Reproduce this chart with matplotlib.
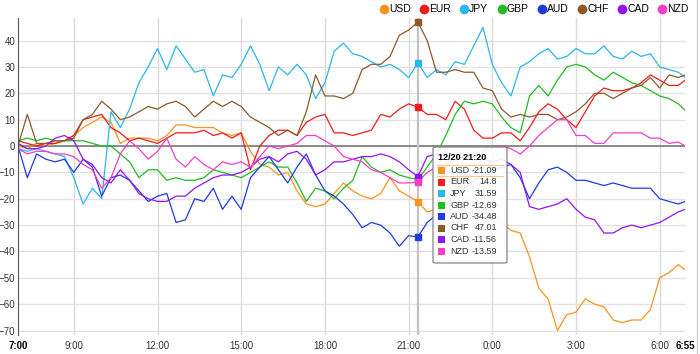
import numpy as np
import matplotlib.pyplot as plt
from matplotlib.lines import Line2D
from matplotlib.patches import FancyBboxPatch, Rectangle

plt.rcParams['font.family'] = ['Liberation Sans', 'DejaVu Sans']

# minutes after 7:00, a reading every 20 min, last one at 6:55
minutes = list(range(0, 1440, 20)) + [1435]
hours = np.array(minutes) / 60

usd = [0, -1, 1, 0, 1, 2, 4, 7, 9, 11, 9, 1, 3, 3, 3, 2, 4, 8, 8, 7, 7, 7, 5, 4, 5, -2, -7, -8, -11, -10, -17, -22, -23, -22, -18, -14,
       -17, -19, -20, -18, -12, -17, -19, -21.09, -25, -24, -23, -25, -24, -26, -27, -26, -29, -32, -33, -42, -54, -58, -70, -64,
       -63, -58, -60, -61, -66, -67, -66, -66, -62, -50, -48, -45, -47]
eur = [2, 1, 0, 1, 1, 2, 4, 10, 11, 12, 7, 5, 2, 3, 2, 1, 3, 5, 5, 5, 6, 4, 5, 3, 5, -9, 0, 4, 6, 6, 4, 9, 11, 12, 5, 5,
       4, 5, 6, 12, 11, 14, 16, 14.8, 12, 12, 10, 17, 14, 6, 3, 3, 5, 5, 2, 7, 13, 16, 14, 10, 7, 13, 19, 22, 21, 21, 22, 24,
       27, 25, 23, 23, 25]
jpy = [-1, -2, -1, -2, -3, -4, -12, -22, -16, -20, 13, 7, 14, 24, 30, 37, 29, 38, 33, 28, 29, 19, 27, 26, 31, 38, 31, 21, 30, 27,
       31, 27, 18, 24, 36, 39,
       35, 34, 32, 30, 31, 29, 26, 31.59, 26, 29, 27, 32, 31, 38, 45, 31, 24, 19, 30, 32, 35, 37, 33, 34, 37, 35, 35, 38, 34, 33,
       36, 34, 35, 30, 29, 28, 26]
gbp = [2, 3, 2, 3, 2, 2, 2, 2, 1, 0, 0, -3, -6, -12, -9, -9, -13, -12, -13, -13, -12, -9, -10, -11, -12, -10, -8, -6, -8, -8,
       -14, -21, -16, -17, -20, -16,
       -13, -4, -8, -10, -9, -11, -12, -12.69, -8, -3, 4, 12, 17, 16, 17, 16, 11, 7, 5, 19, 23, 19, 25, 30, 31, 30, 27, 25, 28,
       26, 24, 23, 21, 19, 18, 16, 13.5]
aud = [0, -12, -3, -5, -6, -5, -10, -5, -8, -19, -12, -11, -13, -17, -21, -19, -18, -29, -28, -20, -21, -16, -24, -19, -24, -12,
       -8, -4, -9, -14, -8, -3, -11, -17, -19, -22,
       -26, -31, -29, -30, -33, -38, -34, -34.48, -29, -26, -22, -19, -16, -13, -11, -9, -8, -7, -12, -20, -14, -9, -8, -10,
       -13, -13, -14, -15, -14, -15, -16, -16, -16, -20, -21, -22, -21]
chf = [0, 12, 1, 1, 2, 2, 3, 10, 12, 17, 14, 10, 11, 13, 15, 14, 16, 17, 15, 11, 14, 17, 15, 17, 15, 11, 9, 7, 4, 6, 4, 13, 27,
       19, 19, 18,
       20, 29, 31, 31, 34, 42, 44, 47.01, 40, 28, 28, 29, 28, 28, 22, 21, 14, 11, 12, 11, 12, 12, 10, 11, 13, 16, 20, 20, 18, 20,
       22, 23, 26, 22, 27, 26, 27]
cad = [1, -1, -1, 0, 3, 4, 2, -5, -7, -12, -14, -9, -13, -18, -20, -21, -21, -19, -19, -16, -14, -12, -11, -11, -10, -8, -5, -4,
       -6, -3, -2, -5, -11, -9, -6, -6,
       -5, -4, -4, -3, -4, -6, -9, -11.56, -4, -3, -4, -3, -5, -4, -5, -6, -5, -7, -10, -23, -24, -23, -22, -20, -24, -27, -28,
       -33, -33, -31, -30, -31, -30, -29, -27, -25, -24]
nzd = [-1, -3, -2, -2, -3, -3, -4, -7, -9, -16, -12, -3, 2, -1, -5, -2, 3, -5, -8, -4, -7, -9, -6, -7, -6, -8, -4, 0, -1, 0, 1,
       4, 4, 2, 0, -4,
       -5, -6, -9, -10, -12, -14, -14, -13.59, -10, -8, -7, -5, -4, -3, -2, -1, 0, -1, -3, 0, 4, 7, 10, 10, 4, 4, 1, 1, 5, 5, 5,
       5, 3, 3, 1, 1.5, 0]

names = ['USD', 'EUR', 'JPY', 'GBP', 'AUD', 'CHF', 'CAD', 'NZD']
series = [usd, eur, jpy, gbp, aud, chf, cad, nzd]
colors = ['#f7941d', '#ee1c1c', '#29b8e8', '#22bb22', '#1f3be0', '#8c5a2a', '#9314f0', '#f23ec8']

tick_hours = [0, 2, 5, 8, 11, 14, 17, 20, 23, 1435 / 60]
tick_labels = ['7:00', '9:00', '12:00', '15:00', '18:00', '21:00', '0:00', '3:00', '6:00', '6:55']
hover = minutes.index(860)
hover_label = '12/20 21:20'

fig = plt.figure(figsize=(7, 3.54), dpi=100)
ax = fig.add_axes([18 / 700, 19.5 / 354, 667.3 / 700, 316.3 / 354])
ax.set_xlim(0, 1435 / 60)
ax.set_ylim(-71.5, 48.5)

ax.set_yticks(range(-70, 41, 10))
ax.yaxis.grid(True, color='#e2e2e2', lw=1)
ax.set_axisbelow(True)
for h in tick_hours[1:-1]:
    ax.axvline(h, color='#dadada', lw=1, zorder=0)
ax.axhline(0, color='#8a8a8a', lw=1.4, zorder=1)
ax.axvline(hours[hover], color='#c4c4c4', lw=1.6, zorder=1)

for s, c in zip(series, colors):
    ax.plot(hours, s, color=c, lw=0.9, zorder=2)
for s, c in zip(series, colors):
    ax.plot(hours[hover], s[hover], 's', ms=4.8, color=c, zorder=4)

for sp in ['top', 'right', 'bottom']:
    ax.spines[sp].set_visible(False)
ax.spines['left'].set_color('#555555')

ax.set_xticks(tick_hours)
ax.set_xticklabels(tick_labels)
ax.tick_params(axis='y', length=0, pad=2, labelsize=7, labelcolor='#333333')
ax.tick_params(axis='x', length=0, pad=5, labelsize=7, labelcolor='#333333')
for i in [0, -1]:
    ax.get_xticklabels()[i].set_fontweight('bold')
    ax.get_xticklabels()[i].set_color('black')

handles = [Line2D([], [], ls='none', marker='o', ms=6, color=c) for c in colors]
fig.legend(handles, names, loc='upper right', bbox_to_anchor=(0.993, 1.005), ncol=8, frameon=False,
           fontsize=7.5, handlelength=0.7, handletextpad=0.15, columnspacing=0.92, borderaxespad=0.2)


# tooltip, laid out in pixels of the 700x354 picture
def fx(x):
    return x / 700


def fy(y):
    return 1 - y / 354


box = FancyBboxPatch((fx(433), fy(263)), 74 / 700, 116 / 354, boxstyle='round,pad=0,rounding_size=0.004',
                     transform=fig.transFigure, facecolor=(1, 1, 1, 0.9), edgecolor='#777777', lw=0.8, zorder=10)
fig.add_artist(box)
fig.text(fx(438), fy(157), hover_label, fontsize=6.5, fontweight='bold', va='center', zorder=11)
for i, (n, s, c) in enumerate(zip(names, series, colors)):
    y = 170.5 + i * 11.5
    fig.add_artist(Rectangle((fx(438), fy(y + 3.5)), 7 / 700, 7 / 354, transform=fig.transFigure,
                             facecolor=c, edgecolor='none', zorder=11))
    fig.text(fx(450), fy(y), n, fontsize=6.5, va='center', color='#333333', zorder=11)
    fig.text(fx(497), fy(y), f'{s[hover]:g}', fontsize=6.5, va='center', ha='right', color='#333333', zorder=11)
for y in [164.5, 176.5]:
    fig.add_artist(Line2D([fx(437), fx(503)], [fy(y), fy(y)], transform=fig.transFigure,
                          color='#f8c888', lw=0.8, zorder=11))

fig.add_artist(Line2D([fx(697), fx(697)], [0, 1], transform=fig.transFigure, color='#cccccc', lw=1))

fig.savefig('out.png', dpi=100)
